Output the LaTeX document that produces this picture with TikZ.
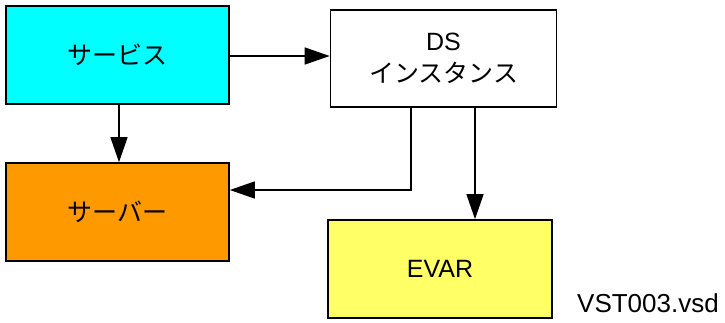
\documentclass[tikz,border=0pt]{standalone}
\usepackage{fontspec}
\setmainfont{Liberation Sans}
\newfontfamily\jpfont{Noto Sans CJK JP}
\usetikzlibrary{arrows.meta}
\definecolor{svccyan}{HTML}{00FFFF}
\definecolor{srvorange}{HTML}{FF9900}
\definecolor{evaryellow}{HTML}{FFFF66}
\tikzset{
  blk/.style={draw=black, line width=1.6pt, minimum width=223pt, minimum height=98pt,
    inner sep=0pt, align=center, font=\fontsize{25pt}{32pt}\selectfont},
  conn/.style={draw=black, line width=1.3pt, -{Triangle[length=25pt,width=17pt]}},
}
\begin{document}
\begin{tikzpicture}[x=1pt,y=-1pt]
  \useasboundingbox (0,0) rectangle (725,322);
  \node[blk, fill=svccyan] (svc) at (117.5,55) {\jpfont サービス};
  \node[blk, fill=white, minimum width=226pt, minimum height=97pt] (ds) at (443.5,58.5)
    {DS\\{\jpfont インスタンス}};
  \node[blk, fill=srvorange] (srv) at (117.5,212) {\jpfont サーバー};
  \node[blk, fill=evaryellow, minimum width=224pt] (evar) at (440,269) {EVAR};
  \node[anchor=base east, inner sep=0pt, font=\fontsize{26pt}{30pt}\selectfont] (fn) at (719,312) {VST003.vsd};
  \coordinate (dsl) at (411,108);
  \coordinate (dsr) at (475,108);
  \draw[conn] (svc.east |- 0,56) -- (ds.west |- 0,56);
  \draw[conn] (svc.south -| 119,0) -- (srv.north -| 119,0);
  \draw[conn] (dsl) |- (srv.east |- 0,190);
  \draw[conn] (dsr) -- (evar.north -| dsr);
\end{tikzpicture}
\end{document}
